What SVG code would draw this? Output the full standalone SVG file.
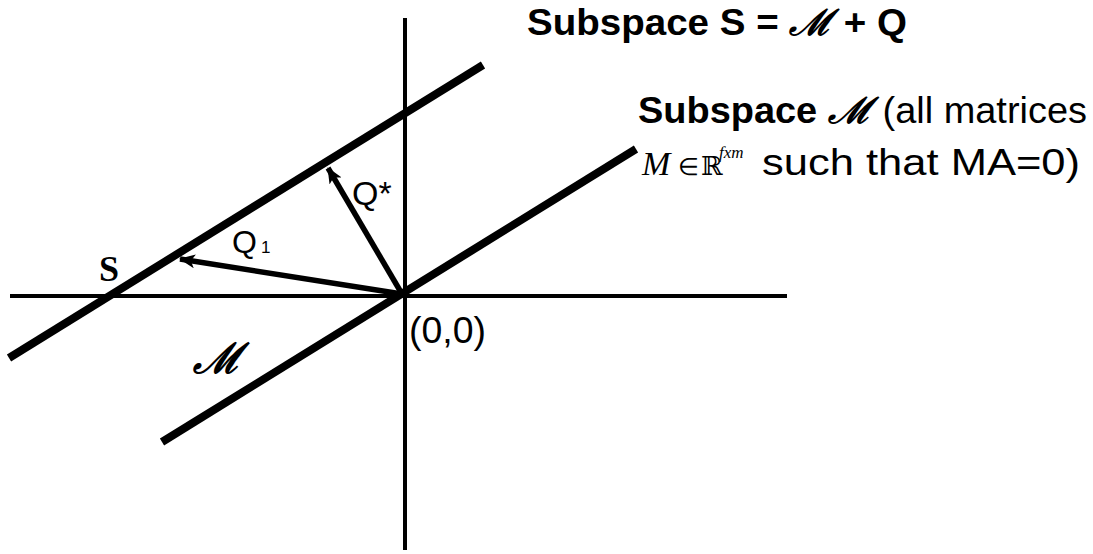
<svg xmlns="http://www.w3.org/2000/svg" width="1093" height="554" viewBox="0 0 1093 554">
<style>
.axis{stroke:#000;stroke-width:4;fill:none}
.thick{stroke:#000;stroke-width:8;fill:none}
.vec{stroke:#000;stroke-width:5.5;fill:none}
.sans{font-family:"Liberation Sans",Arial,sans-serif;fill:#000}
.serif{font-family:"Liberation Serif","Times New Roman",serif;fill:#000}
.script{font-family:"DejaVu Serif","Liberation Serif",serif;font-style:italic;font-weight:bold;fill:#000}
</style>
<defs>
<marker id="ah" markerWidth="18" markerHeight="14" refX="15" refY="7" orient="auto" markerUnits="userSpaceOnUse">
<path d="M0,0 L16,7 L0,14 L4,7 z" fill="#000"/>
</marker>
</defs>
<rect width="1093" height="554" fill="#fff"/>
<g id="connectors">
<line class="axis" x1="10" y1="296" x2="787" y2="296"/>
<line class="axis" x1="405" y1="18" x2="405" y2="550"/>
<line id="lineS" class="thick" x1="9" y1="358" x2="483" y2="65"/>
<line id="lineM" class="thick" x1="162" y1="442" x2="636" y2="149"/>
<line id="Q1" class="vec" x1="402" y1="294" x2="180" y2="259" marker-end="url(#ah)"/>
<line id="Qstar" class="vec" x1="402" y1="294" x2="328" y2="168" marker-end="url(#ah)"/>
</g>
<g id="title">
<text class="sans" x="527" y="35" font-size="37" font-weight="bold" textLength="380" lengthAdjust="spacingAndGlyphs">Subspace S = <tspan class="script" font-size="36">ℳ</tspan> + Q</text>
</g>
<g id="subspaceM">
<text class="sans" x="638" y="123" font-size="36" textLength="449" lengthAdjust="spacingAndGlyphs"><tspan font-weight="bold">Subspace <tspan class="script">ℳ</tspan></tspan> (all matrices</text>
<text class="serif" x="642" y="175" font-size="34" font-style="italic">M</text>
<text class="serif" x="678" y="175" font-size="24">∈</text>
<text x="701" y="175" font-size="26" font-family="DejaVu Serif,serif">ℝ</text>
<text class="serif" x="719" y="158" font-size="17" font-style="italic">fxm</text>
<text class="sans" x="762" y="175" font-size="37" textLength="318" lengthAdjust="spacingAndGlyphs">such that MA=0)</text>
</g>
<g id="labelS"><text class="serif" x="99" y="281" font-size="36" font-weight="bold">S</text></g>
<g id="labelQ1"><text class="sans" x="232" y="253" font-size="32">Q</text><text class="sans" x="261" y="253" font-size="17">1</text></g>
<g id="labelQstar"><text class="sans" x="352" y="205" font-size="34">Q*</text></g>
<g id="labelOrigin"><text class="sans" x="409" y="343" font-size="37" textLength="77" lengthAdjust="spacingAndGlyphs">(0,0)</text></g>
<g id="labelM"><text class="script" x="193" y="373" font-size="42">ℳ</text></g>
</svg>
